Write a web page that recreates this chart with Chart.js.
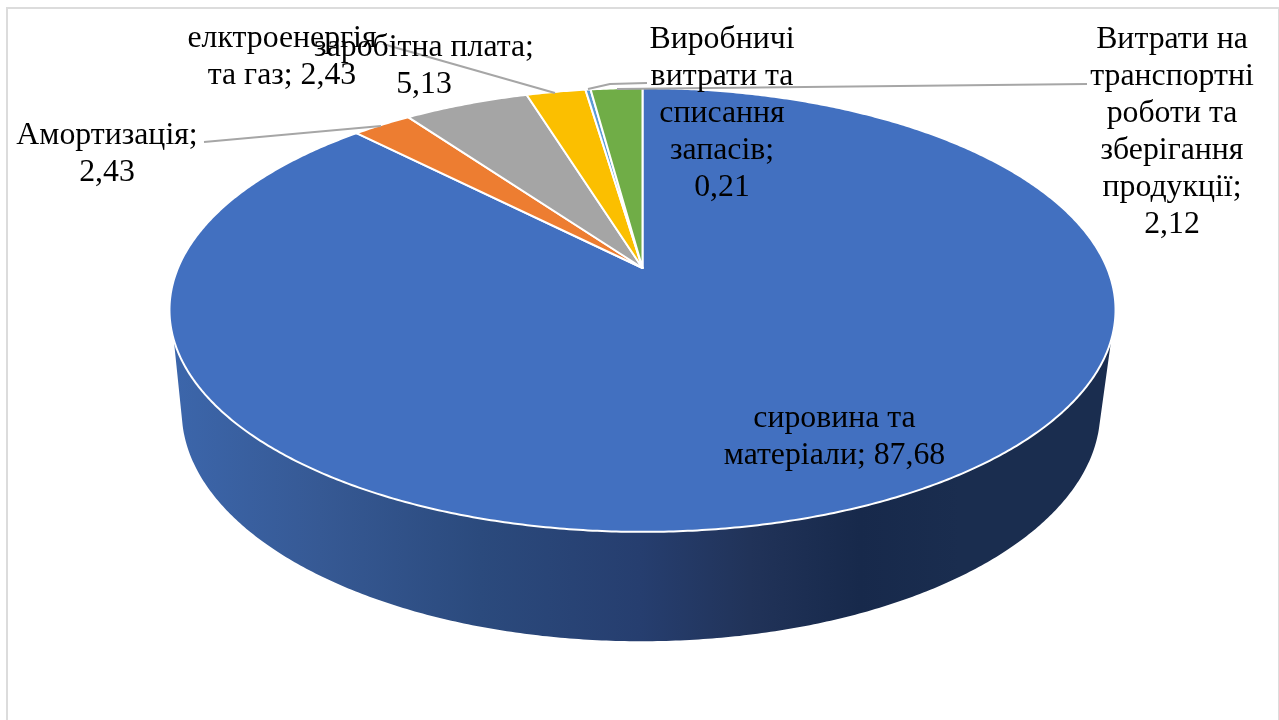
<!DOCTYPE html>
<html lang="uk">
<head>
    <meta charset="UTF-8">
    <title>Структура витрат</title>
    <script src="https://cdn.jsdelivr.net/npm/chart.js"></script>
    <style>
        html, body {
            margin: 0;
            height: 100%;
            overflow: hidden;
            background: #fff;
        }
        #chart {
            position: absolute;
            left: 0;
            top: 0;
        }
        #frame {
            position: absolute;
            left: 6px;
            top: 7px;
            width: 1270px;
            height: 730px;
            border: 2px solid #dcdcdc;
        }
    </style>
</head>
<body>
    <div id="frame"></div>
    <canvas id="chart" width="1279" height="720"></canvas>

    <script>
        const categories = [
            'сировина та матеріали',
            'Амортизація',
            'заробітна плата',
            'елктроенергія та газ',
            'Виробничі витрати та списання запасів',
            'Витрати на транспортні роботи та зберігання продукції'
        ];
        const values = [87.68, 2.43, 5.13, 2.43, 0.21, 2.12];
        const colors = ['#4270c0', '#ed7d31', '#a5a5a5', '#fbbf00', '#5b9bd5', '#70ad47'];

        // label placement: centre x, first baseline, wrap width
        const labelLayout = [
            { x: 834.5, y: 426.5, wrap: 240 },
            { x: 107, y: 144, wrap: 190 },
            { x: 424, y: 55.5, wrap: 240 },
            { x: 282, y: 47, wrap: 200 },
            { x: 722, y: 47.5, wrap: 155 },
            { x: 1172, y: 47.5, wrap: 170 }
        ];
        const lineHeight = 37.1;

        // leader lines, screen coordinates, by category index
        const leaders = {
            1: [[204, 142], [381, 126]],
            3: [[383, 44], [555, 93]],
            4: [[647, 83], [610, 84], [588, 89]],
            5: [[1087, 84], [617, 89]]
        };

        // the pie plane is seen in perspective, so the centre is not the middle of the ellipse
        const K = 0.189;
        const topPlane = { x: 642.5, y: 268, a: 464.5, b: 214 };
        const bottomPlane = { x: 641, y: 367.5, a: 451, b: 222 };

        const wallStops = [
            [172, '#3c66ab'], [320, '#365994'], [480, '#2b4a7d'], [640, '#263e6f'],
            [750, '#213359'], [860, '#17294b'], [960, '#1a2d4f'], [1112, '#1a2d4f']
        ];

        function project(angle, plane) {
            const u = Math.cos(angle), v = Math.sin(angle), w = 1 - K * v;
            return [plane.x + plane.a * u / w, plane.y + plane.b * v / w];
        }

        function rimPoints(from, to, plane) {
            const pts = [];
            const n = Math.max(2, Math.ceil((to - from) * 120));
            for (let i = 0; i <= n; i++) {
                pts.push(project(from + (to - from) * i / n, plane));
            }
            return pts;
        }

        function tracePoints(ctx, pts) {
            pts.forEach((p, i) => i ? ctx.lineTo(p[0], p[1]) : ctx.moveTo(p[0], p[1]));
        }

        function drawWall(ctx, arc) {
            const topFrom = Math.max(arc.startAngle, Math.asin(0.316));
            const topTo = Math.min(arc.endAngle, Math.PI - Math.asin(0.316));
            if (topTo <= topFrom) return;
            const bottomFrom = Math.max(arc.startAngle, Math.asin(0.25));
            const bottomTo = Math.min(arc.endAngle, Math.PI - Math.asin(0.25));

            const x0 = wallStops[0][0], x1 = wallStops[wallStops.length - 1][0];
            const grad = ctx.createLinearGradient(x0, 0, x1, 0);
            wallStops.forEach(s => grad.addColorStop((s[0] - x0) / (x1 - x0), s[1]));

            ctx.beginPath();
            tracePoints(ctx, rimPoints(topFrom, topTo, topPlane).concat(rimPoints(bottomFrom, bottomTo, bottomPlane).reverse()));
            ctx.closePath();
            ctx.fillStyle = grad;
            ctx.fill();
        }

        function drawSlice(ctx, arc) {
            ctx.beginPath();
            tracePoints(ctx, [[topPlane.x, topPlane.y]].concat(rimPoints(arc.startAngle, arc.endAngle, topPlane)));
            ctx.closePath();
            ctx.fillStyle = arc.options.backgroundColor;
            ctx.fill();
            ctx.strokeStyle = arc.options.borderColor;
            ctx.lineWidth = arc.options.borderWidth;
            ctx.lineJoin = 'round';
            ctx.stroke();
        }

        function wrapLabel(ctx, text, width) {
            const lines = [];
            let line = '';
            text.split(' ').forEach(word => {
                const next = line ? line + ' ' + word : word;
                if (line && ctx.measureText(next).width > width) {
                    lines.push(line);
                    line = word;
                } else {
                    line = next;
                }
            });
            lines.push(line);
            return lines;
        }

        const pie3d = {
            id: 'pie3d',
            beforeDatasetsDraw(chart) {
                const ctx = chart.ctx;
                const arcs = chart.getDatasetMeta(0).data;
                ctx.save();
                arcs.forEach(arc => drawWall(ctx, arc));
                arcs.forEach(arc => drawSlice(ctx, arc));

                ctx.strokeStyle = '#a6a6a6';
                ctx.lineWidth = 2;
                Object.values(leaders).forEach(pts => {
                    ctx.beginPath();
                    tracePoints(ctx, pts);
                    ctx.stroke();
                });

                ctx.font = '31.8px "Liberation Serif"';
                ctx.fillStyle = '#000';
                ctx.textAlign = 'center';
                ctx.textBaseline = 'alphabetic';
                categories.forEach((name, i) => {
                    const pos = labelLayout[i];
                    const text = name + '; ' + values[i].toFixed(2).replace('.', ',');
                    wrapLabel(ctx, text, pos.wrap).forEach((line, j) => {
                        ctx.fillText(line, pos.x, pos.y + j * lineHeight);
                    });
                });
                ctx.restore();
                return false; // slices are painted above, skip the flat pie
            }
        };

        new Chart(document.getElementById('chart').getContext('2d'), {
            type: 'pie',
            data: {
                labels: categories,
                datasets: [{
                    data: values,
                    backgroundColor: colors,
                    borderColor: '#fff',
                    borderWidth: 2
                }]
            },
            options: {
                responsive: false,
                animation: false,
                events: [],
                plugins: {
                    legend: { display: false },
                    tooltip: { enabled: false }
                }
            },
            plugins: [pie3d]
        });
    </script>
</body>
</html>
